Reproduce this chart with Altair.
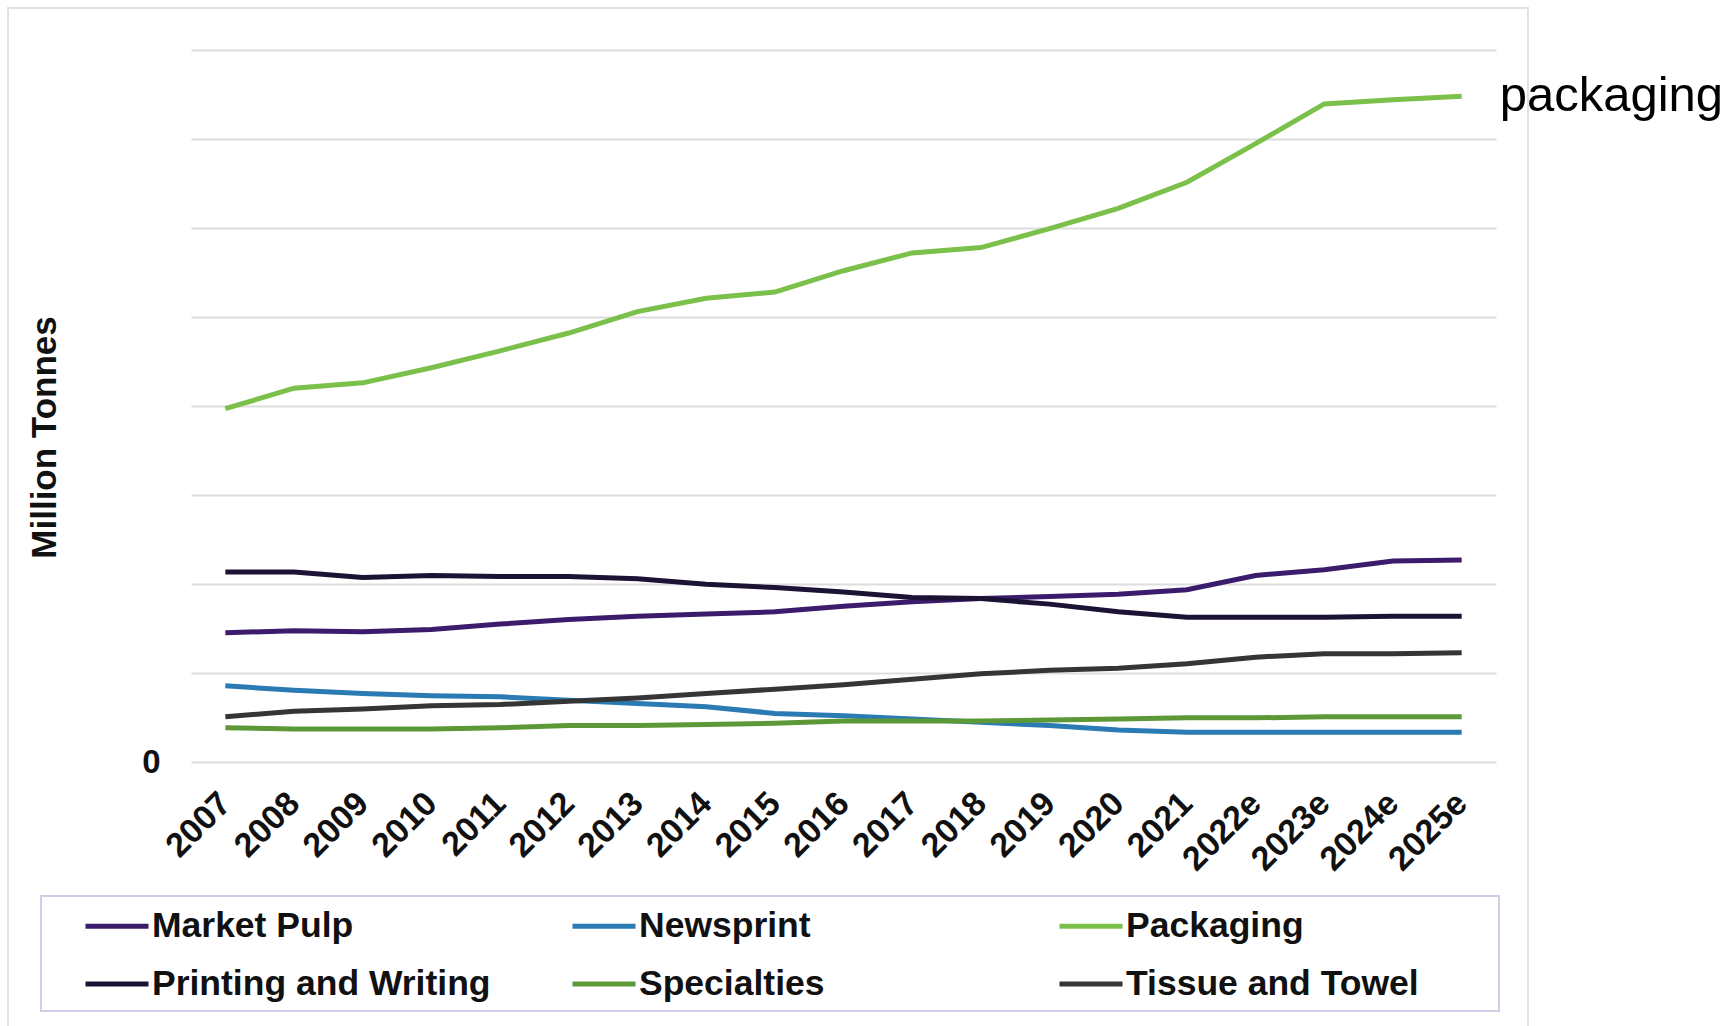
import altair as alt
import pandas as pd

years = ["2007", "2008", "2009", "2010", "2011", "2012", "2013", "2014", "2015",
         "2016", "2017", "2018", "2019", "2020", "2021", "2022e", "2023e", "2024e", "2025e"]

market_pulp = [72.6, 73.8, 73.2, 74.4, 77.5, 80.0, 81.9, 83.1, 84.4, 87.5, 90.0, 91.8,
               93.0, 94.3, 96.8, 104.8, 108.0, 112.9, 113.5]
newsprint = [42.8, 40.3, 38.5, 37.2, 36.6, 34.7, 32.9, 31.0, 27.3, 26.0, 24.2, 22.3,
             20.5, 18.0, 16.7, 16.7, 16.7, 16.7, 16.7]
packaging = [198.5, 210.0, 213.0, 221.5, 231.0, 241.0, 253.0, 260.5, 264.0, 276.0, 286.0,
             289.0, 299.6, 311.0, 325.7, 347.4, 369.7, 372.0, 374.0]
printing_writing = [106.7, 106.7, 103.6, 104.8, 104.2, 104.2, 103.0, 99.9, 98.0, 95.5, 92.4,
                    91.8, 88.7, 84.4, 81.3, 81.3, 81.3, 81.9, 81.9]
specialties = [19.2, 18.6, 18.6, 18.6, 19.2, 20.5, 20.5, 21.1, 21.7, 23.0, 23.0, 23.0,
               23.6, 24.2, 24.8, 24.8, 25.4, 25.4, 25.4]
tissue_towel = [25.4, 28.5, 29.8, 31.6, 32.3, 34.1, 36.0, 38.5, 40.9, 43.4, 46.5, 49.6,
                51.5, 52.7, 55.2, 58.9, 60.8, 60.8, 61.4]

series_names = ["Market Pulp", "Newsprint", "Packaging", "Printing and Writing",
                "Specialties", "Tissue and Towel"]
series_values = [market_pulp, newsprint, packaging, printing_writing, specialties, tissue_towel]
series_colors = ["#3b1b6c", "#2a7ab3", "#7cc04c", "#1c1234", "#5c9838", "#353535"]

y_ticks = [0, 50, 100, 150, 200, 250, 300, 350, 400]

rows = []
for name, vals in zip(series_names, series_values):
    for yr, v in zip(years, vals):
        rows.append({"Year": yr, "Series": name, "Value": v})
df = pd.DataFrame(rows)

label_df = pd.DataFrame([{"Year": years[-1], "Value": packaging[-1], "Label": "packaging"}])

FONT = "Liberation Sans"

x_enc = alt.X("Year:O", sort=years,
              scale=alt.Scale(type="point", padding=0.5),
              axis=alt.Axis(title=None, labelAngle=-45, labelAlign="right",
                            labelBaseline="middle", labelPadding=36, labelFontSize=34,
                            labelFontWeight="bold", labelFont=FONT, labelColor="#111111",
                            domain=False, ticks=False, grid=False, labelOverlap=False))
y_enc = alt.Y("Value:Q",
              scale=alt.Scale(domain=[0, 400], nice=False),
              axis=alt.Axis(values=y_ticks, labelExpr="datum.value == 0 ? '0' : ''",
                            title="Million Tonnes", titleFontSize=35, titleFont=FONT,
                            titleFontWeight="bold", titleColor="#111111",
                            titleAngle=-90, titleX=-147, titleY=387,
                            titleAlign="center", titleBaseline="middle",
                            labelFontSize=33, labelFontWeight="bold", labelFont=FONT,
                            labelColor="#111111", labelPadding=31,
                            domain=False, ticks=False, grid=True,
                            gridColor="#dedede", gridWidth=2))

frame = alt.Chart(alt.Data(values=[{}])).mark_rect(
    fillOpacity=0, stroke="#e2e2e2", strokeWidth=2
).encode(x=alt.value(-183), x2=alt.value(1337), y=alt.value(-42), y2=alt.value(985))

legend_box = alt.Chart(alt.Data(values=[{}])).mark_rect(
    fillOpacity=0, stroke="#d6cbe8", strokeWidth=2
).encode(x=alt.value(-150), x2=alt.value(1308), y=alt.value(846), y2=alt.value(961))

lines = alt.Chart(df).mark_line(strokeWidth=5).encode(
    x=x_enc,
    y=y_enc,
    color=alt.Color("Series:N",
                    scale=alt.Scale(domain=series_names, range=series_colors),
                    legend=alt.Legend(title=None, orient="none", legendX=-108, legendY=842,
                                      columns=3, direction="horizontal", gridAlign="all",
                                      columnPadding=71, rowPadding=5,
                                      symbolType="stroke", symbolSize=3969,
                                      symbolStrokeWidth=5, labelOffset=1,
                                      labelFontSize=35.5, labelFont=FONT,
                                      labelFontWeight="bold", labelColor="#111111",
                                      labelLimit=600, padding=0)),
)

text = alt.Chart(label_df).mark_text(
    align="left", baseline="middle", dx=38, fontSize=49, font=FONT, color="#000000"
).encode(x=alt.X("Year:O", sort=years), y="Value:Q", text="Label:N")

chart = alt.layer(frame, legend_box, lines, text).properties(
    width=1305, height=712,
    padding={"left": 191, "top": 50, "right": 235, "bottom": 264},
    autosize=alt.AutoSizeParams(type="none"),
    background="white",
).configure_view(stroke=None)

chart.save("out.html", embed_options={"renderer": "svg", "actions": False})
